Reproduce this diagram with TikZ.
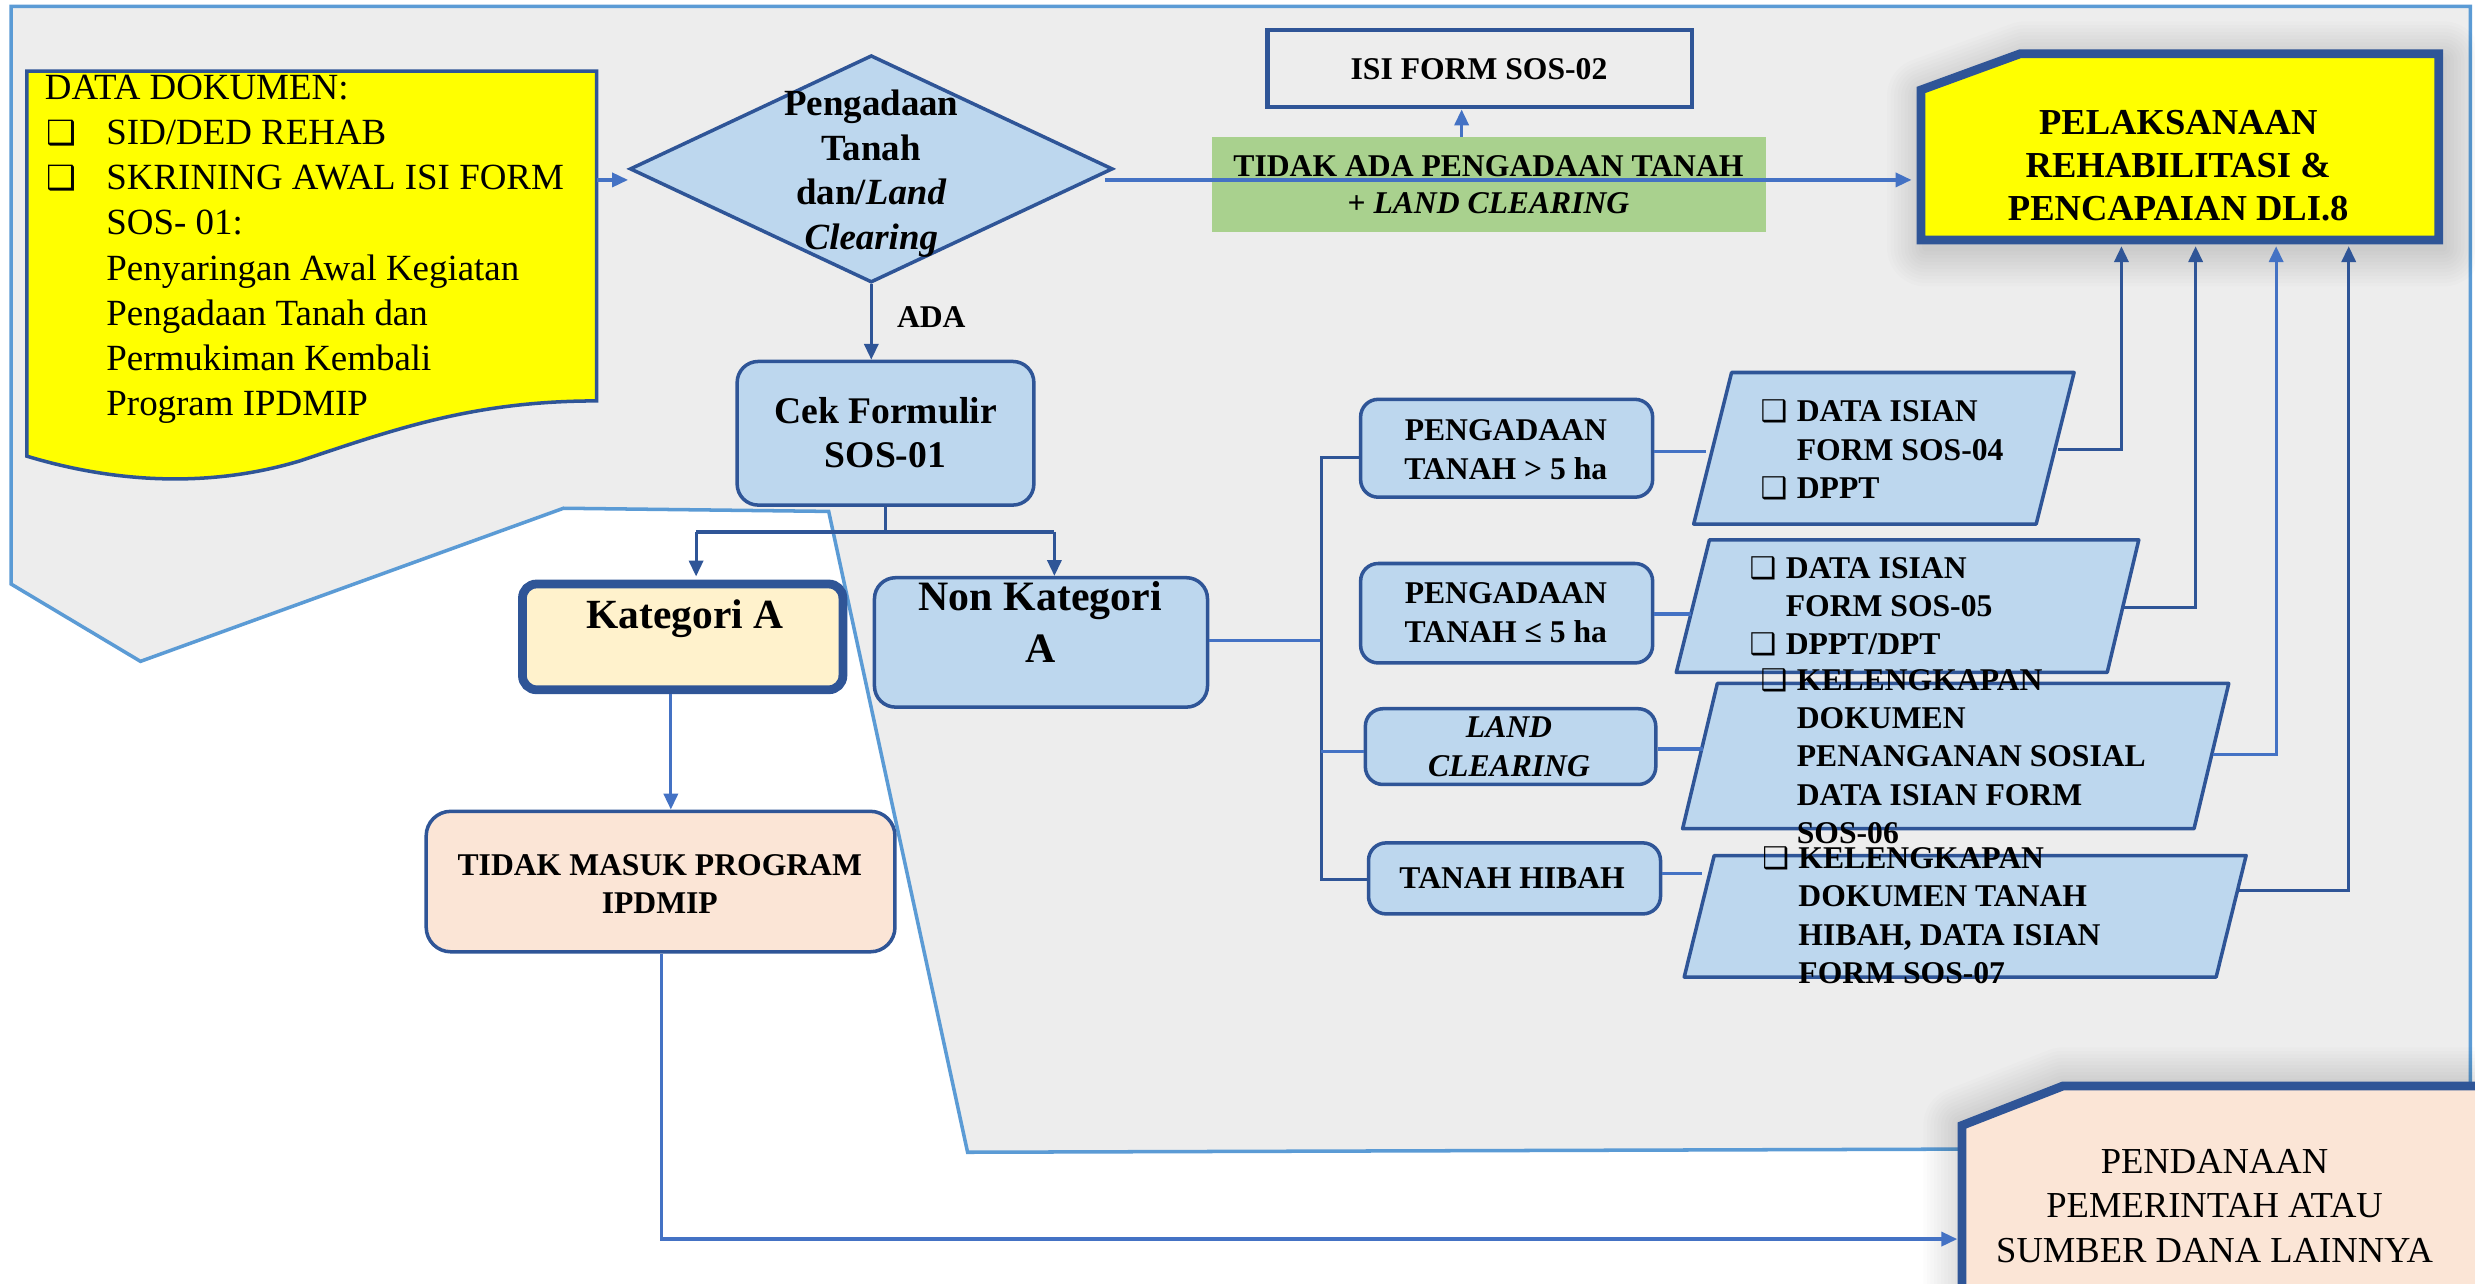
\documentclass[tikz,border=0pt]{standalone}
\usepackage{fontspec}
\setmainfont{Liberation Serif}
\newfontfamily\cbfont{DejaVu Sans}
\usetikzlibrary{shapes.geometric,arrows.meta,calc}
\definecolor{dblue}{HTML}{2F5597}
\definecolor{mblue}{HTML}{4472C4}
\definecolor{lblue}{HTML}{5B9BD5}
\definecolor{boxblue}{HTML}{BDD7EE}
\definecolor{bggrey}{HTML}{EDEDED}
\definecolor{ylw}{HTML}{FFFF00}
\definecolor{cream}{HTML}{FFF2CC}
\definecolor{peach}{HTML}{FBE5D6}
\definecolor{grn}{HTML}{A9D18E}
\newcommand\ux{0.015785cm}
\newcommand\cbg{{\cbfont\fontsize{9.5}{9.5}\selectfont\char"2751}}
\newcommand\cbgs{{\cbfont\fontsize{8.5}{8.5}\selectfont\char"2751}}
\newcommand\cbA{\hspace*{0.5pt}\makebox[17pt][l]{\cbg}}
\newcommand\inA{\hspace*{17.5pt}}
\newcommand\cbB{\makebox[10.3pt][l]{\cbgs}}
\newcommand\inB{\hspace*{10.3pt}}
\begin{document}
\begin{tikzpicture}[x=0.015785cm, y=-0.015785cm,
  conn/.style={draw=mblue, line width=0.9pt},
  dconn/.style={draw=dblue, line width=0.9pt},
  arr/.style={conn, -{Triangle[width=4pt,length=4.5pt]}},
  darr/.style={dconn, -{Triangle[width=4pt,length=4.5pt]}},
  rbox/.style={draw=dblue, line width=1pt, fill=boxblue, rounded corners=5pt, inner sep=0pt},
  txt/.style={inner sep=0pt, align=center, font=\bfseries\fontsize{9}{11.2}\selectfont},
  ptxt/.style={inner sep=0pt, align=left, anchor=north west, font=\bfseries\fontsize{9}{10.9}\selectfont},
  para/.style={draw=dblue, line width=1pt, fill=boxblue, line join=round},
  snip/.style={draw=dblue, line width=2.5pt, line join=miter},
  shade/.style={draw=black, line join=round},
]
\useasboundingbox (0,0) rectangle (1568,813);
\clip (0,0) rectangle (1568,813);
\fill[white] (0,0) rectangle (1568,813);

% background panel
\draw[draw=lblue, fill=bggrey, line width=1pt] (7,4) -- (1565,4) -- (1565,727) -- (613,730) -- (525,324) -- (357,322) -- (89,419) -- (7,370) -- cycle;

% document shape
\draw[draw=dblue, fill=ylw, line width=1pt] (17,45) -- (378,45) -- (378,254) .. controls (300,254) and (250,272) .. (190,292) .. controls (130,310) and (70,305) .. (17,289) -- cycle;
\coordinate (dataE) at (378,114);
\node[inner sep=0pt, align=left, anchor=north west, font=\fontsize{10.5}{12.85}\selectfont] (datatext) at (28,47)
 {DATA DOKUMEN:\\
  \cbA SID/DED REHAB\\
  \cbA SKRINING AWAL ISI FORM\\
  \inA SOS- 01:\\
  \inA Penyaringan Awal Kegiatan\\
  \inA Pengadaan Tanah dan\\
  \inA Permukiman Kembali\\
  \inA Program IPDMIP};

% diamond
\node[diamond, draw=dblue, line width=1pt, fill=boxblue, inner sep=0pt, minimum width=306*\ux, minimum height=144*\ux] (dia) at (552,107) {};
\node[txt, font=\bfseries\fontsize{10.5}{12.7}\selectfont] (diatext) at (552,110) {Pengadaan\\Tanah\\dan/\textit{Land}\\\textit{Clearing}};

% ISI FORM SOS-02
\node[draw=dblue, line width=1.2pt, inner sep=0pt, minimum width=269*\ux, minimum height=49*\ux] (isi) at (937.5,43.5) {};
\node[txt] (isitext) at (937,44) {ISI FORM SOS-02};

% green label box
\node[fill=grn, inner sep=0pt, minimum width=351*\ux, minimum height=60*\ux] (grn) at (943.5,117) {};
\node[txt, font=\bfseries\fontsize{9}{10.8}\selectfont] (grntext) at (943,117) {TIDAK ADA PENGADAAN TANAH\\+ \textit{LAND CLEARING}};

% PELAKSANAAN snipped box
\foreach \w in {2,4,...,22}{
  \draw[shade, line width=\w pt, opacity=0.012] (1283,38) -- (1548,38) -- (1548,157) -- (1220,157) -- (1220,61) -- cycle;}
\draw[snip, fill=ylw] (1280,34) -- (1545,34) -- (1545,152) -- (1217,152) -- (1217,57) -- cycle;
\node[txt, font=\bfseries\fontsize{10.4}{12.35}\selectfont] (pel) at (1380,105) {PELAKSANAAN\\REHABILITASI \&\\PENCAPAIAN DLI.8};
\coordinate (pelW) at (1211,114);

% Cek formulir
\node[rbox, rounded corners=6pt, minimum width=188*\ux, minimum height=91*\ux] (cek) at (561,274.5) {};
\node[txt, font=\bfseries\fontsize{10.7}{12.6}\selectfont] (cektext) at (561,274) {Cek Formulir\\SOS-01};
\node[inner sep=0pt, font=\bfseries\fontsize{9}{10}\selectfont] (ada) at (590,201) {ADA};

% Kategori A
\node[draw=dblue, line width=2.5pt, fill=cream, rounded corners=4pt, inner sep=0pt, minimum width=203*\ux, minimum height=67*\ux] (katA) at (432.5,403.5) {};
\node[inner sep=0pt, font=\bfseries\fontsize{11.8}{13}\selectfont] (katAtext) at (434,392) {Kategori A};

% Non Kategori A
\node[rbox, rounded corners=6pt, minimum width=211*\ux, minimum height=82*\ux] (nonA) at (659.5,407) {};
\node[txt, font=\bfseries\fontsize{11.9}{14.8}\selectfont] (nonAtext) at (659,394) {Non Kategori\\A};

% Tidak masuk program
\node[draw=dblue, line width=1pt, fill=peach, rounded corners=7pt, inner sep=0pt, minimum width=297*\ux, minimum height=89*\ux] (tidak) at (418.5,558.5) {};
\node[txt, font=\bfseries\fontsize{9}{10.8}\selectfont] (tidaktext) at (418,560) {TIDAK MASUK PROGRAM\\IPDMIP};

% PENDANAAN snipped box
\foreach \w in {2,4,...,22}{
  \draw[shade, line width=\w pt, opacity=0.012] (1307,688) -- (1580,688) -- (1580,830) -- (1243,830) -- (1243,713) -- cycle;}
\draw[snip, fill=peach] (1307,688) -- (1580,688) -- (1580,830) -- (1243,830) -- (1243,713) -- cycle;
\node[txt, font=\fontsize{10.4}{12.6}\selectfont] (pend) at (1403,764) {PENDANAAN\\PEMERINTAH ATAU\\SUMBER DANA LAINNYA};
\coordinate (pendW) at (1240,785);

% right-hand boxes
\node[rbox, minimum width=185*\ux, minimum height=62*\ux] (b1) at (954.5,284) {};
\node[txt] (b1text) at (954,285) {PENGADAAN\\TANAH > 5 ha};
\node[rbox, minimum width=185*\ux, minimum height=63*\ux] (b2) at (954.5,388.5) {};
\node[txt] (b2text) at (954,388) {PENGADAAN\\TANAH ≤ 5 ha};
\node[rbox, minimum width=184*\ux, minimum height=48*\ux] (b3) at (957,473) {};
\node[txt, font=\bfseries\itshape\fontsize{9}{11.2}\selectfont] (b3text) at (956,473) {LAND\\CLEARING};
\node[rbox, minimum width=185*\ux, minimum height=45*\ux] (b4) at (959.5,556.5) {};
\node[txt] (b4text) at (958,556) {TANAH HIBAH};

% parallelograms
\draw[para] (1097,236) coordinate (p1a) -- (1314,236) -- (1290,332) -- (1073,332) -- cycle;
\draw[para] (1083,342) coordinate (p2a) -- (1355,342) -- (1335,426) -- (1062,426) -- cycle;
\draw[para] (1088,433) coordinate (p3a) -- (1412,433) -- (1390,525) -- (1066,525) -- cycle;
\draw[para] (1086,542) coordinate (p4a) -- (1423,542) -- (1404,619) -- (1067,619) -- cycle;
\coordinate (p1W) at (1081,286); \coordinate (p1E) at (1304,285);
\coordinate (p2W) at (1071,389); \coordinate (p2E) at (1345,385);
\coordinate (p3W) at (1079,474.5); \coordinate (p3E) at (1402,478);
\coordinate (p4W) at (1078,553.5); \coordinate (p4E) at (1417,564);
\node[ptxt] (p1text) at (1115,253) {\cbB DATA ISIAN\\\inB FORM SOS-04\\\cbB DPPT};
\node[ptxt] (p2text) at (1108,352) {\cbB DATA ISIAN\\\inB FORM SOS-05\\\cbB DPPT/DPT};
\node[ptxt] (p3text) at (1115,423) {\cbB KELENGKAPAN\\\inB DOKUMEN\\\inB PENANGANAN SOSIAL\\\inB DATA ISIAN FORM\\\inB SOS-06};
\node[ptxt] (p4text) at (1116,536) {\cbB KELENGKAPAN\\\inB DOKUMEN TANAH\\\inB HIBAH, DATA ISIAN\\\inB FORM SOS-07};

% ---------- connectors ----------
\coordinate (diaE) at (700,114);
\draw[arr] (dataE) -- (dia.west |- dataE);
\draw[arr] (diaE) -- (pelW);
\coordinate (g1) at (926,0);
\draw[arr] (grn.north -| g1) -- (isi.south -| g1);
\draw[darr] (dia.south) -- (cek.north -| dia.south);

\coordinate (split) at (561,338);
\coordinate (kL) at (441,337);
\coordinate (kR) at (668,337);
\draw[dconn] (cek.south -| split) -- (split);
\draw[dconn] (kL) -- (kR);
\draw[darr] (kL) -- ($(kL |- katA.north)+(0,-2)$);
\draw[darr] (kR) -- (kR |- nonA.north);

\coordinate (kA) at (425,0);
\draw[arr] (katA.south -| kA) -- (tidak.north -| kA);
\coordinate (tb) at (419,785);
\draw[arr] (tidak.south -| tb) -- (tb) -- (pendW);

\coordinate (vt) at (837,290);
\coordinate (vb) at (837,557);
\draw[conn] (nonA.east |- 0,406) -- (837,406);
\draw[dconn] (b1.west |- vt) -- (vt) -- (vb) -- (b4.west |- vb);
\coordinate (v3) at (837,476);
\draw[conn] (v3) -- (b3.west |- v3);

\draw[conn] (b1.east |- p1W) -- (p1W);
\draw[conn] (b2.east |- p2W) -- (p2W);
\draw[conn] (b3.east |- p3W) -- (p3W);
\draw[conn] (b4.east |- p4W) -- (p4W);

\coordinate (u1) at (1344,156);
\coordinate (u2) at (1391,156);
\coordinate (u3) at (1442,156);
\coordinate (u4) at (1488,156);
\draw[darr] (p1E) -| (u1);
\draw[darr] (p2E) -| (u2);
\draw[arr] (p3E) -| (u3);
\draw[darr] (p4E) -| (u4);
\end{tikzpicture}
\end{document}
